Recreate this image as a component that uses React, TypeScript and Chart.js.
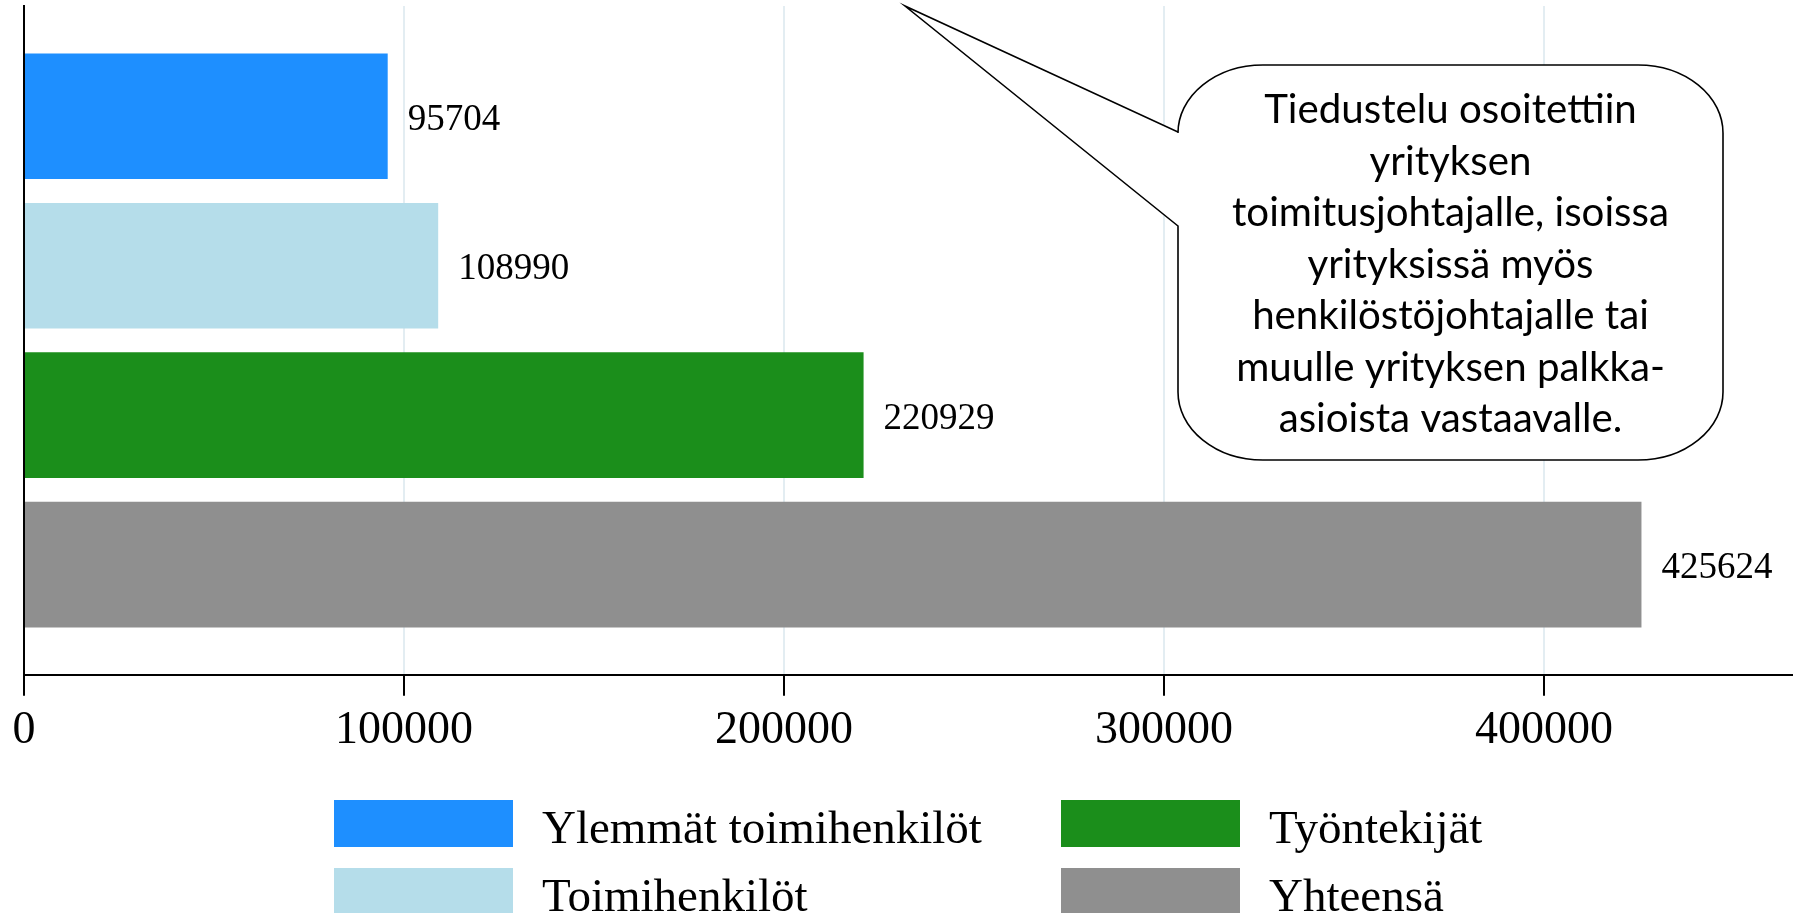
import React, { useEffect, useRef } from "react";
import { Chart, registerables } from "chart.js";

Chart.register(...registerables);

const categories = [""];
const seriesNames = ["Ylemmät toimihenkilöt", "Toimihenkilöt", "Työntekijät", "Yhteensä"];
const seriesValues = [95704, 108990, 220929, 425624];
const seriesColors = ["#1E8FFF", "#B5DDEA", "#1B8E1B", "#8F8F8F"];
const xTickValues = [0, 100000, 200000, 300000, 400000];
const calloutLines = [
  "Tiedustelu osoitettiin",
  "yrityksen",
  "toimitusjohtajalle, isoissa",
  "yrityksissä myös",
  "henkilöstöjohtajalle tai",
  "muulle yrityksen palkka-",
  "asioista vastaavalle.",
];

const SERIF = "'Liberation Serif', 'Times New Roman', serif";
const SANS = "Lato, 'Open Sans', sans-serif";

const valueLabelsPlugin = {
  id: "valueLabels",
  afterDatasetsDraw(chart: any) {
    const ctx = chart.ctx;
    ctx.save();
    ctx.font = `37px ${SERIF}`;
    ctx.fillStyle = "#000";
    ctx.textAlign = "left";
    ctx.textBaseline = "middle";
    chart.data.datasets.forEach((ds: any, i: number) => {
      const meta = chart.getDatasetMeta(i);
      meta.data.forEach((el: any, j: number) => {
        ctx.fillText(String(ds.data[j]), el.x + 20, el.y + 4);
      });
    });
    ctx.restore();
  },
};

const calloutPlugin = {
  id: "callout",
  afterDraw(chart: any) {
    const ctx = chart.ctx;
    const L = 1178, R = 1723, T = 65, B = 460;
    const rx = 85, ry = 68;
    const tip = { x: 905, y: 6 };
    ctx.save();
    ctx.beginPath();
    ctx.moveTo(L, 226);
    ctx.lineTo(tip.x, tip.y);
    ctx.lineTo(L, 132);
    ctx.lineTo(L, T + ry);
    ctx.ellipse(L + rx, T + ry, rx, ry, 0, Math.PI, Math.PI * 1.5);
    ctx.lineTo(R - rx, T);
    ctx.ellipse(R - rx, T + ry, rx, ry, 0, Math.PI * 1.5, Math.PI * 2);
    ctx.lineTo(R, B - ry);
    ctx.ellipse(R - rx, B - ry, rx, ry, 0, 0, Math.PI * 0.5);
    ctx.lineTo(L + rx, B);
    ctx.ellipse(L + rx, B - ry, rx, ry, 0, Math.PI * 0.5, Math.PI);
    ctx.lineTo(L, 226);
    ctx.closePath();
    ctx.fillStyle = "#fff";
    ctx.fill();
    ctx.lineWidth = 1.6;
    ctx.strokeStyle = "#000";
    ctx.stroke();

    // fit font so the widest line is ~437px
    ctx.font = `34px ${SANS}`;
    const w = ctx.measureText(calloutLines[2]).width;
    const size = 34 * (437 / w);
    ctx.font = `${size}px ${SANS}`;
    ctx.fillStyle = "#000";
    ctx.textAlign = "center";
    ctx.textBaseline = "alphabetic";
    const cx = (L + R) / 2;
    calloutLines.forEach((line, i) => {
      ctx.fillText(line, cx, 123 + i * 51.5);
    });
    ctx.restore();
  },
};

const legendPlugin = {
  id: "customLegend",
  afterDraw(chart: any) {
    const ctx = chart.ctx;
    const colX = [334, 1061];
    const rowY = [800, 868];
    ctx.save();
    ctx.font = `47px ${SERIF}`;
    ctx.textAlign = "left";
    ctx.textBaseline = "alphabetic";
    seriesNames.forEach((name, i) => {
      const col = Math.floor(i / 2);
      const row = i % 2;
      const x = colX[col];
      const y = rowY[row];
      ctx.fillStyle = seriesColors[i];
      ctx.fillRect(x, y, 179, 47);
      ctx.fillStyle = "#000";
      ctx.fillText(name, x + 208, y + 43);
    });
    ctx.restore();
  },
};

export default function App() {
  const canvasRef = useRef<HTMLCanvasElement | null>(null);

  useEffect(() => {
    const canvas = canvasRef.current;
    if (!canvas) return;
    const chart = new Chart(canvas, {
      type: "bar",
      data: {
        labels: categories,
        datasets: seriesNames.map((name, i) => ({
          label: name,
          data: [seriesValues[i]],
          backgroundColor: seriesColors[i],
          borderWidth: 0,
          categoryPercentage: 0.894,
          barPercentage: 0.84,
        })),
      },
      options: {
        indexAxis: "y",
        responsive: false,
        animation: false,
        devicePixelRatio: 1,
        layout: { padding: { left: 24, top: 6, right: 0, bottom: 193 } },
        plugins: {
          legend: { display: false },
          tooltip: { enabled: false },
        },
        scales: {
          x: {
            type: "linear",
            position: "bottom",
            min: 0,
            max: 465500,
            afterBuildTicks: (scale: any) => {
              scale.ticks = xTickValues.map((v) => ({ value: v }));
            },
            grid: {
              color: "#E3EDF2",
              lineWidth: 2,
              drawTicks: true,
              tickColor: "#000",
              tickWidth: 2,
              tickLength: 21,
            },
            border: { display: true, color: "#000", width: 2 },
            ticks: {
              color: "#000",
              font: { family: SERIF, size: 46 },
              padding: 8,
              autoSkip: false,
              maxRotation: 0,
              callback: (v: any) => String(v),
            },
          },
          y: {
            type: "category",
            grid: { drawOnChartArea: false, drawTicks: false },
            border: { display: true, color: "#000", width: 2 },
            ticks: { display: false },
          },
        },
      },
      plugins: [valueLabelsPlugin, calloutPlugin, legendPlugin],
    } as any);
    return () => chart.destroy();
  }, []);

  return (
    <div
      style={{
        position: "fixed",
        left: 0,
        top: 0,
        width: "100vw",
        height: "100vh",
        overflow: "hidden",
        background: "#fff",
      }}
    >
      <canvas
        ref={canvasRef}
        width={1793}
        height={960}
        style={{ display: "block", width: 1793, height: 960 }}
      />
    </div>
  );
}
